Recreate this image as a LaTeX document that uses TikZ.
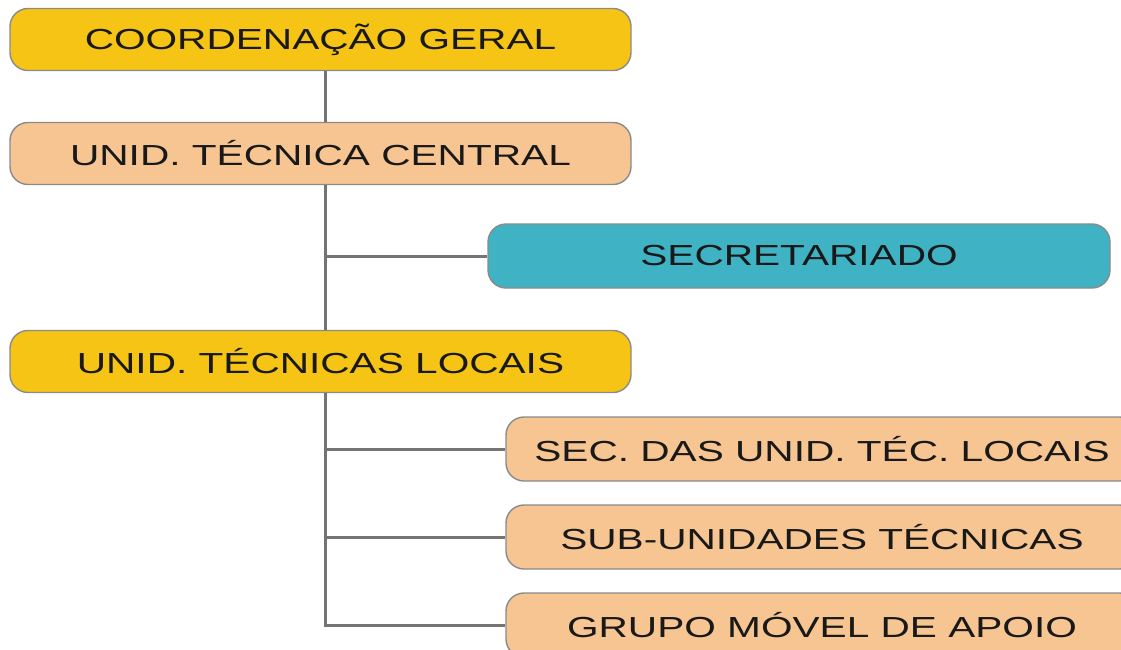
\documentclass[tikz,border=0pt]{standalone}
\usepackage{fontspec}
\setmainfont{Liberation Sans}[FakeStretch=1.4]
\definecolor{gold}{HTML}{F6C414}
\definecolor{peach}{HTML}{F7C591}
\definecolor{teal}{HTML}{3FB2C3}
\definecolor{edge}{HTML}{8A8A8A}
\definecolor{wire}{HTML}{747474}
\begin{document}
\begin{tikzpicture}[x=1pt,y=-1pt,
  box/.style={draw=edge,line width=1.4pt,rounded corners=18pt,inner sep=0pt,
    font=\fontsize{29}{32}\selectfont,text=black!90},
  leftbox/.style={box,minimum width=621pt,minimum height=62pt},
  rightbox/.style={box,minimum width=632pt,minimum height=64pt},
  conn/.style={draw=wire,line width=3pt}]
\path[use as bounding box] (0,0) rectangle (1121,650);
\clip (0,0) rectangle (1121,650);
\node[leftbox,fill=gold]  (cg)  at (320.5,39.5) {COORDENAÇÃO GERAL};
\node[leftbox,fill=peach] (utc) at (320.5,153.5) {UNID. TÉCNICA CENTRAL};
\node[box,fill=teal,minimum width=622pt,minimum height=64pt] (sec) at (799,256) {SECRETARIADO};
\node[leftbox,fill=gold]  (utl) at (320.5,361.5) {UNID. TÉCNICAS LOCAIS};
\node[rightbox,fill=peach] (sdl) at (822,449) {SEC. DAS UNID. TÉC. LOCAIS};
\node[rightbox,fill=peach] (sut) at (822,537) {SUB-UNIDADES TÉCNICAS};
\node[rightbox,fill=peach] (gma) at (822,625) {GRUPO MÓVEL DE APOIO};
\coordinate (spine) at (325,0);
\draw[conn] (cg.south -| spine) -- (utc.north -| spine);
\draw[conn] (utc.south -| spine) -- (utl.north -| spine);
\draw[conn] (utc.south -| spine) |- (sec.west);
\draw[conn] (utl.south -| spine) |- (sdl.west);
\draw[conn] (utl.south -| spine) |- (sut.west);
\draw[conn] (utl.south -| spine) |- (gma.west);
\end{tikzpicture}
\end{document}
